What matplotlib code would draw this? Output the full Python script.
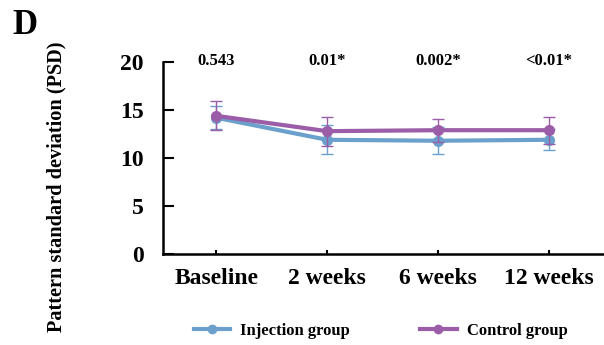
import numpy as np
import matplotlib
matplotlib.use('Agg')
import matplotlib.pyplot as plt
from matplotlib.lines import Line2D

matplotlib.rcParams['font.family'] = 'serif'
matplotlib.rcParams['font.serif'] = ['Liberation Serif', 'DejaVu Serif']
matplotlib.rcParams['font.weight'] = 'bold'

categories = ['Baseline', '2 weeks', '6 weeks', '12 weeks']
injection = [14.2, 11.9, 11.8, 11.9]
injection_err = [1.2, 1.5, 1.4, 1.1]
control = [14.4, 12.8, 12.9, 12.9]
control_err = [1.5, 1.5, 1.2, 1.4]
p_values = ['0.543', '0.01*', '0.002*', '<0.01*']

blue = '#6b9fcc'
purple = '#9b5da8'

fig = plt.figure(figsize=(6.04, 3.45), dpi=100)
ax = fig.add_axes([0.27, 0.264, 0.73, 0.556])

x = np.arange(len(categories))
ax.errorbar(x, injection, yerr=injection_err, color=blue, lw=3, marker='o', ms=7,
            elinewidth=1, capsize=4, capthick=1, zorder=3)
ax.errorbar(x, control, yerr=control_err, color=purple, lw=3, marker='o', ms=7,
            elinewidth=1, capsize=4, capthick=1, zorder=4)

for xi, p in zip(x, p_values):
    ax.text(xi, 20.1, p, ha='center', va='center', fontsize=12, fontweight='bold', clip_on=False)

ax.set_xlim(-0.48, 3.5)
ax.set_ylim(0, 20)
ax.set_yticks([0, 5, 10, 15, 20])
ax.set_xticks(x)
ax.set_xticklabels(categories)
ax.tick_params(axis='y', direction='in', length=8, width=1.5, labelsize=17, pad=14)
ax.tick_params(axis='x', direction='in', length=3, width=1.5, labelsize=17, pad=10)
for side in ['top', 'right']:
    ax.spines[side].set_visible(False)
for side in ['left', 'bottom']:
    ax.spines[side].set_linewidth(1.8)

fig.text(0.094, 0.458, 'Pattern standard deviation (PSD)', rotation=90, ha='center', va='center',
         fontsize=14.6, fontweight='bold')
fig.text(0.02, 0.975, 'D', ha='left', va='top', fontsize=25, fontweight='bold')

handles = [Line2D([], [], color=blue, lw=3, marker='o', ms=6),
           Line2D([], [], color=purple, lw=3, marker='o', ms=6)]
fig.legend(handles, ['Injection group', 'Control group'], loc='center', bbox_to_anchor=(0.63, 0.04),
           ncol=2, frameon=False, fontsize=12, handlelength=2.2, columnspacing=4.2, handletextpad=0.6)

plt.savefig('out.png', dpi=100)
